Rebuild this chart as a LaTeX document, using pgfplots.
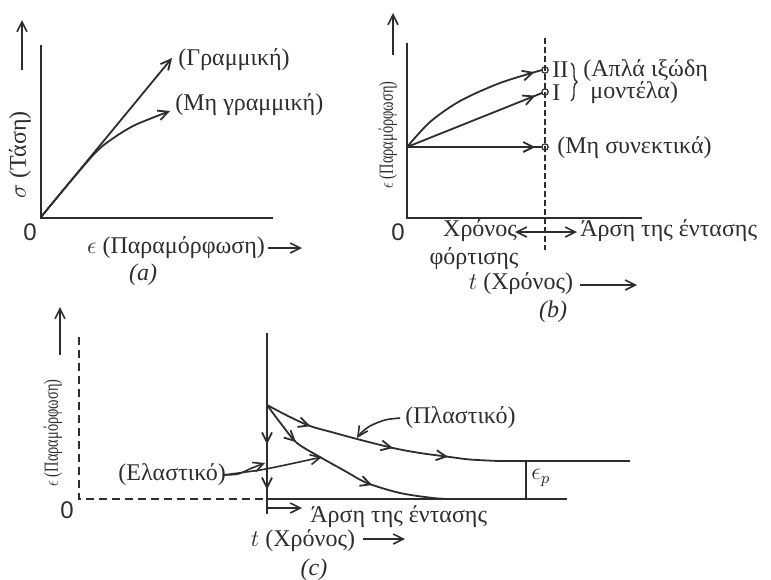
\documentclass[border=0pt]{standalone}
\usepackage{pgfplots}
\pgfplotsset{compat=1.18}
\usepackage{fontspec}
\setmainfont{Liberation Serif}
\newfontfamily\sansf{Liberation Sans}
\usetikzlibrary{arrows.meta,decorations.markings,decorations.pathreplacing}
\definecolor{ink}{RGB}{45,45,45}
\tikzset{
  tip/.style={-{Straight Barb[length=5pt,width=5pt]}},
  m1/.style={postaction={decorate,decoration={markings,
     mark=at position #1 with {\arrow{Straight Barb[length=5pt,width=5pt]}}}}},
  m2/.style 2 args={postaction={decorate,decoration={markings,
     mark=at position #1 with {\arrow{Straight Barb[length=5pt,width=5pt]}},
     mark=at position #2 with {\arrow{Straight Barb[length=5pt,width=5pt]}}}}},
  m3/.style n args={3}{postaction={decorate,decoration={markings,
     mark=at position #1 with {\arrow{Straight Barb[length=5pt,width=5pt]}},
     mark=at position #2 with {\arrow{Straight Barb[length=5pt,width=5pt]}},
     mark=at position #3 with {\arrow{Straight Barb[length=5pt,width=5pt]}}}}},
}
\newcommand{\rlab}{\scalebox{0.72}[1]{\fontsize{10}{12}\selectfont$\epsilon$ (Παραμόρφωση)}}
\begin{document}
\begin{tikzpicture}[every node/.append style={text=ink,font=\fontsize{12}{14}\selectfont}]
\useasboundingbox (0,0) rectangle (385.5pt,289.5pt);
\begin{axis}[at={(0,0)},anchor=south west,scale only axis,
  width=385.5pt,height=289.5pt,
  xmin=0,xmax=771,ymin=0,ymax=579,y dir=reverse,
  axis lines=none,clip=false,
  every axis plot/.append style={ink,line width=0.9pt,mark=none}]

% ---------------- (a) ----------------
\addplot[line width=1pt] coordinates {(41,45)(41,218)(273,218)};
\addplot[tip] coordinates {(41,217)(172,58)};
\addplot[tip,smooth] coordinates {(41,217)(70,182)(97,151)(115,137)(133,126)(152,118)(170,111)};
\addplot[tip,line width=0.8pt] coordinates {(22,70)(22,20)};
\addplot[tip,line width=0.8pt] coordinates {(268,248)(302,248)};
\node[rotate=90] at (axis cs:20,155) {$\sigma$ (Τάση)};
\node at (axis cs:30,232) {\sansf 0};
\node at (axis cs:176,248) {$\epsilon$ (Παραμόρφωση)};
\node at (axis cs:143,275) {\textit{(a)}};
\node[anchor=west,inner sep=0] at (axis cs:178,60) {(Γραμμική)};
\node[anchor=west,inner sep=0] at (axis cs:175,105) {(Μη γραμμική)};

% ---------------- (b) ----------------
\addplot[line width=1pt] coordinates {(407,43)(407,218)(642,218)};
\addplot[line width=0.8pt,dash pattern=on 3pt off 1.5pt] coordinates {(545,38)(545,250)};
\addplot[m1=0.95] coordinates {(407,147)(542,147)};
\addplot[m1=0.95] coordinates {(407,147)(542,93)};
\addplot[smooth,m1=0.95] coordinates {(407,147)(430,122)(460,101)(500,83)(542,70)};
\addplot[only marks,mark=o,mark size=1.6pt,mark options={fill=white,line width=0.6pt,draw=ink}] coordinates {(545,70)(545,92)(545,147)};
\addplot[tip,line width=0.8pt] coordinates {(393,55)(393,13)};
\node[rotate=90] at (axis cs:388,135) {\rlab};
\node at (axis cs:398,232) {\sansf 0};
\node[anchor=west,inner sep=0] at (axis cs:552,70) {II};
\node[anchor=west,inner sep=0] at (axis cs:552,93) {I};
\draw[ink,line width=0.7pt,decorate,decoration={brace,amplitude=3pt}] (axis cs:571,63) -- (axis cs:571,101);
\node[anchor=west,inner sep=0] at (axis cs:583,71) {(Απλά ιξώδη};
\node[anchor=west,inner sep=0] at (axis cs:590,93) {μοντέλα)};
\node[anchor=west,inner sep=0] at (axis cs:557,148) {(Μη συνεκτικά)};
\node at (axis cs:480,231) {Χρόνος};
\node at (axis cs:474,259) {φόρτισης};
\addplot[{Straight Barb[length=5pt,width=5pt]}-{Straight Barb[length=5pt,width=5pt]},line width=0.8pt] coordinates {(515,232)(577,232)};
\node[anchor=west,inner sep=0] at (axis cs:580,231) {Άρση της έντασης};
\node at (axis cs:521,284) {$t$ (Χρόνος)};
\addplot[tip,line width=0.8pt] coordinates {(580,285)(637,285)};
\node at (axis cs:553,312) {\textit{(b)}};

% ---------------- (c) ----------------
\addplot[line width=1pt,dash pattern=on 4pt off 2.5pt] coordinates {(79,337)(79,499)(267,499)};
\addplot[line width=1pt] coordinates {(267,333)(267,514)};
\addplot[line width=1pt] coordinates {(267,499)(567,499)};
\addplot[m2={0.42}{0.9}] coordinates {(267,405)(267,499)};
\addplot[smooth,m3={0.13}{0.36}{0.51}] coordinates {(267,405)(290,417)(310,426)(335,433)(357,439)(393,448)(420,453)(450,457)(470,459.5)(500,461)(526,461)(630,461)};
\addplot[smooth,m2={0.22}{0.63}] coordinates {(267,405)(282,425)(297,443)(320,457)(345,471)(367,483)(400,493)(433,498)(450,499)};
\addplot[line width=0.6pt] coordinates {(526,461)(526,499)};
\addplot[smooth,tip,line width=0.8pt] coordinates {(400,418)(385,420)(370,426)(361,433)(357,438)};
\addplot[smooth,tip,line width=0.8pt] coordinates {(223,475)(238,474)(252,468)(265,463)};
\addplot[smooth,tip,line width=0.8pt] coordinates {(223,475)(260,470)(290,464)(322,457)};
\addplot[tip,line width=0.8pt] coordinates {(268,508)(302,508)};
\addplot[tip,line width=0.8pt] coordinates {(60,355)(60,307)};
\addplot[tip,line width=0.8pt] coordinates {(363,539)(405,539)};
\node[rotate=90] at (axis cs:53,433) {\rlab};
\node at (axis cs:67,510) {\sansf 0};
\node[anchor=west,inner sep=0] at (axis cs:405,418) {(Πλαστικό)};
\node[anchor=west,inner sep=0] at (axis cs:118,475) {(Ελαστικό)};
\node at (axis cs:541,478) {$\epsilon_p$};
\node[anchor=west,inner sep=0] at (axis cs:310,517) {Άρση της έντασης};
\node at (axis cs:303,541) {$t$ (Χρόνος)};
\node at (axis cs:314,570) {\textit{(c)}};
\end{axis}
\end{tikzpicture}
\end{document}
